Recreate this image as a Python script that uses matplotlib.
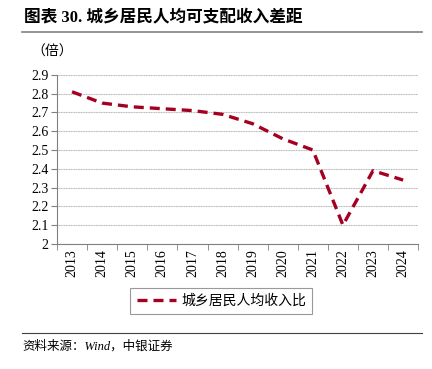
import matplotlib.pyplot as plt
from matplotlib.lines import Line2D

# ------ data ------ #
years = ["2013", "2014", "2015", "2016", "2017", "2018",
         "2019", "2020", "2021", "2022", "2023", "2024"]
ratio = [2.81, 2.75, 2.73, 2.72, 2.71, 2.69, 2.64, 2.56, 2.50, 2.10, 2.39, 2.34]
y_ticks = [2.0, 2.1, 2.2, 2.3, 2.4, 2.5, 2.6, 2.7, 2.8, 2.9]
y_labels = ["2", "2.1", "2.2", "2.3", "2.4", "2.5", "2.6", "2.7", "2.8", "2.9"]

plt.rcParams["font.family"] = ["Liberation Serif", "Noto Sans CJK SC"]
red = "#A50021"

fig = plt.figure(figsize=(4.32, 3.69), dpi=100)

# title & rules
fig.text(0.055, 0.952, "图表 30. 城乡居民人均可支配收入差距", fontsize=12,
         weight="bold", va="center")
fig.add_artist(Line2D([0.05, 0.977], [0.913, 0.913], color="#808080", lw=1.2))
fig.add_artist(Line2D([0.05, 0.977], [0.098, 0.098], color="#404040", lw=0.8))
fig.text(0.052, 0.062, "资料来源：Wind，中银证券", fontsize=9, style="italic", va="center")
fig.text(0.072, 0.858, "（倍）", fontsize=10, va="center")

# plot area
ax = fig.add_axes([0.132, 0.339, 0.836, 0.458])
x = list(range(len(years)))
ax.plot(x, ratio, color=red, lw=2.4, linestyle=(0, (3, 1.8)), label="城乡居民人均收入比")

ax.set_ylim(2.0, 2.9)
ax.set_yticks(y_ticks)
ax.set_yticklabels(y_labels, fontsize=10)
ax.set_xlim(-0.5, len(years) - 0.5)
ax.set_xticks(x)
ax.set_xticklabels(years, rotation=90, fontsize=10)
ax.set_xticks([i - 0.5 for i in range(len(years) + 1)], minor=True)
ax.tick_params(axis="x", which="major", length=0, pad=4)
ax.tick_params(axis="x", which="minor", length=4, color="#808080")
ax.tick_params(axis="y", length=4, color="#808080", pad=2)

ax.grid(axis="y", color="#b8b8b8", lw=0.8, linestyle=(0, (1, 0.5)))
for s in ["top", "right"]:
    ax.spines[s].set_visible(False)
for s in ["left", "bottom"]:
    ax.spines[s].set_color("#808080")

leg = ax.legend(loc="upper center", bbox_to_anchor=(0.455, -0.26), fontsize=10,
                frameon=True, fancybox=False, edgecolor="#808080", handlelength=2.8,
                handletextpad=0.4, borderpad=0.45, borderaxespad=0)
leg.get_frame().set_linewidth(0.8)

plt.savefig("out.png", dpi=100)
